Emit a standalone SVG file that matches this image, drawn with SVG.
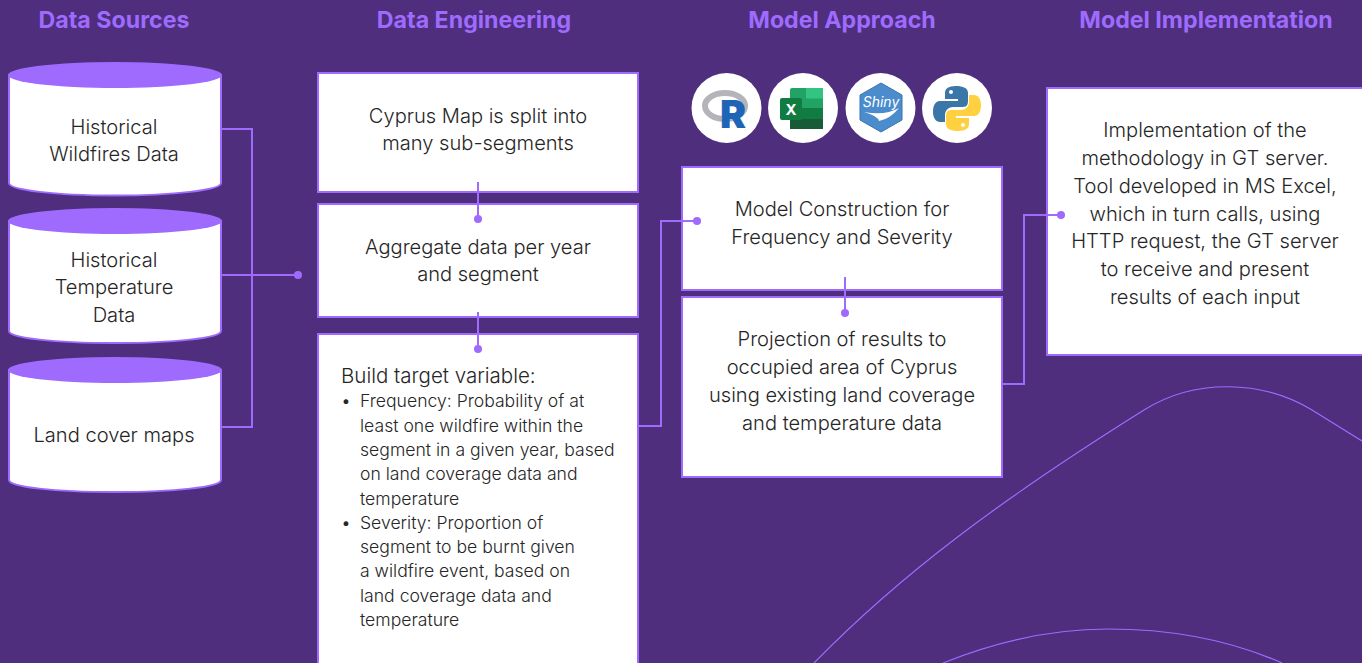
<svg xmlns="http://www.w3.org/2000/svg" width="1362" height="663" viewBox="0 0 1362 663">
<style>
text{font-family:"Inter","Noto Sans",sans-serif;fill:#262626;font-weight:300}
.h{font-size:23.200px;font-weight:700;fill:#9F6BFF;text-anchor:middle}
.c{font-size:20.100px;text-anchor:middle}
.s{font-size:17.600px}
.b{fill:#fff;stroke:#9F6BFF;stroke-width:2}
.l{fill:none;stroke:#9F6BFF;stroke-width:2}
.d{fill:#9F6BFF}
.t{fill:#9F6BFF;stroke:none}
.w{fill:#fff}
</style>
<rect width="1362" height="663" fill="#4E2E7D"/>
<g id="deco" fill="none" stroke="#9F6BFF" stroke-width="1.2">
<path d="M814 663C900 575 1000 500 1144 410C1195 378 1262 380 1312 410L1362 441"/>
<path d="M943 663C1000 640 1055 629 1108 629C1170 629 1230 640 1282 663"/>
</g>
<g id="headings">
<text class="h" x="114" y="28">Data Sources</text>
<text class="h" x="474" y="28">Data Engineering</text>
<text class="h" x="842" y="28">Model Approach</text>
<text class="h" x="1206" y="28">Model Implementation</text>
</g>
<g id="src1">
<path class="b" d="M9 75V183C9 190 55 195.500 114.500 195.500S221 190 221 183V75Z"/>
<ellipse class="t" cx="115" cy="75" rx="107" ry="13"/>
<text class="c" x="114" y="134">Historical</text><text class="c" x="114" y="161">Wildfires Data</text>
</g>
<g id="src2">
<path class="b" d="M9 221V331C9 338 55 343 114.500 343S221 338 221 331V221Z"/>
<ellipse class="t" cx="115" cy="221" rx="107" ry="13"/>
<text class="c" x="114" y="267">Historical</text><text class="c" x="114" y="294">Temperature</text><text class="c" x="114" y="322">Data</text>
</g>
<g id="src3">
<path class="b" d="M9 370V480C9 487 55 492 114.500 492S221 487 221 480V370Z"/>
<ellipse class="t" cx="115" cy="370" rx="107" ry="13"/>
<text class="c" x="114" y="442">Land cover maps</text>
</g>
<g id="split">
<rect class="b" x="318" y="73" width="320" height="119"/>
<text class="c" x="478" y="123">Cyprus Map is split into</text><text class="c" x="478" y="150">many sub-segments</text>
</g>
<g id="aggregate">
<rect class="b" x="318" y="204" width="320" height="113"/>
<text class="c" x="478" y="254">Aggregate data per year</text><text class="c" x="478" y="281">and segment</text>
</g>
<g id="target">
<rect class="b" x="318" y="334" width="320" height="340"/>
<text x="341" y="383" style="font-size:20.500px">Build target variable:</text>
<text class="s" x="341" y="407">•</text>
<text class="s" x="360" y="407">Frequency: Probability of at</text>
<text class="s" x="360" y="432">least one wildfire within the</text>
<text class="s" x="360" y="456">segment in a given year, based</text>
<text class="s" x="360" y="480">on land coverage data and</text>
<text class="s" x="360" y="505">temperature</text>
<text class="s" x="341" y="529">•</text>
<text class="s" x="360" y="529">Severity: Proportion of</text>
<text class="s" x="360" y="553">segment to be burnt given</text>
<text class="s" x="360" y="577">a wildfire event, based on</text>
<text class="s" x="360" y="602">land coverage data and</text>
<text class="s" x="360" y="626">temperature</text>
</g>
<g id="icon-r">
<circle class="w" cx="726.500" cy="108" r="35"/>
<ellipse cx="725" cy="106" rx="20" ry="13" fill="none" stroke="#B4B5B9" stroke-width="6"/>
<text x="733" y="128" text-anchor="middle" style="font-size:39px;font-weight:900;fill:#1F65B7">R</text>
</g>
<g id="icon-excel">
<circle class="w" cx="803" cy="108" r="35"/>
<rect x="790" y="88" width="33" height="41" rx="2" fill="#21A366"/>
<rect x="806" y="88" width="17" height="10.500" fill="#33C481"/>
<rect x="790" y="108" width="33" height="11" fill="#107C41"/>
<rect x="790" y="119" width="33" height="10" fill="#185C37"/>
<rect x="780" y="98" width="22" height="22" rx="2" fill="#107C41"/>
<text x="791" y="115" text-anchor="middle" style="font-size:15px;font-weight:700;fill:#fff">X</text>
</g>
<g id="icon-shiny">
<circle class="w" cx="880.500" cy="108" r="35"/>
<polygon points="881,83 902,95 902,120 881,132 860,120 860,95" fill="#4A8CCC" stroke="#3A76B0" stroke-width="1"/>
<text x="881" y="107" text-anchor="middle" style="font-size:14px;font-style:italic;font-weight:400;fill:#fff">Shiny</text>
<path d="M864 112Q885 116 899 108Q890 119 879 121Q878 116 864 112Z" fill="#fff"/>
</g>
<g id="icon-python">
<circle class="w" cx="957" cy="108" r="35"/>
<path d="M956 86C948 86 945 89 945 93V99H958V101H940C934 101 933 108 933 112C933 118 936 122 940 122H945V115C945 110 949 107 953 107H963C967 107 968 104 968 101V93C968 88 963 86 956 86Z" fill="#3A76A8"/>
<path d="M958 131C966 131 969 128 969 124V118H956V116H974C980 116 981 109 981 105C981 99 978 95 974 95H969V102C969 107 965 110 961 110H951C947 110 946 113 946 116V124C946 129 951 131 958 131Z" fill="#FFD03F"/>
<circle class="w" cx="951" cy="92" r="2"/><circle class="w" cx="963" cy="125" r="2"/>
</g>
<g id="construction">
<rect class="b" x="682" y="167" width="320" height="123"/>
<text class="c" x="842" y="216">Model Construction for</text><text class="c" x="842" y="244">Frequency and Severity</text>
</g>
<g id="projection">
<rect class="b" x="682" y="297" width="320" height="180"/>
<text class="c" x="842" y="346">Projection of results to</text><text class="c" x="842" y="374">occupied area of Cyprus</text><text class="c" x="842" y="402">using existing land coverage</text><text class="c" x="842" y="430">and temperature data</text>
</g>
<g id="implementation">
<rect class="b" x="1047" y="88" width="320" height="267"/>
<text class="c" x="1205" y="137">Implementation of the</text>
<text class="c" x="1205" y="165">methodology in GT server.</text>
<text class="c" x="1205" y="193">Tool developed in MS Excel,</text>
<text class="c" x="1205" y="221">which in turn calls, using</text>
<text class="c" x="1205" y="248">HTTP request, the GT server</text>
<text class="c" x="1205" y="276">to receive and present</text>
<text class="c" x="1205" y="304">results of each input</text>
</g>
<g id="connectors">
<path class="l" d="M221 129H252V427H221M221 275H298"/>
<circle class="d" cx="298" cy="275" r="4"/>
<path class="l" d="M478 182V219"/><circle class="d" cx="478" cy="219" r="4"/>
<path class="l" d="M478 312V349"/><circle class="d" cx="478" cy="349" r="4"/>
<path class="l" d="M638 426H661V221H697"/><circle class="d" cx="697" cy="221" r="4"/>
<path class="l" d="M845 277V313"/><circle class="d" cx="845" cy="313" r="4"/>
<path class="l" d="M1002 384H1024V215H1061"/><circle class="d" cx="1061" cy="215" r="4"/>
</g>
</svg>
